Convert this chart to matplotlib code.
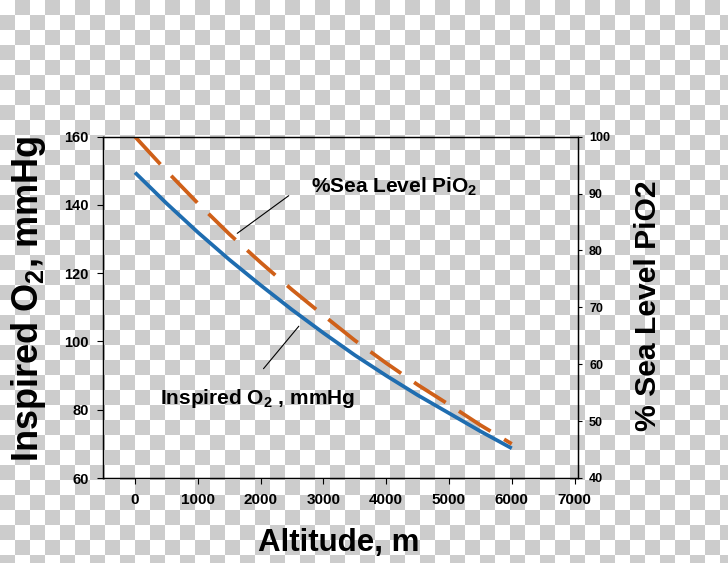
import numpy as np
import matplotlib
matplotlib.use('Agg')
import matplotlib.pyplot as plt

plt.rcParams['font.family'] = ['Liberation Sans', 'DejaVu Sans']
plt.rcParams['font.weight'] = 'bold'
plt.rcParams['mathtext.fontset'] = 'custom'
plt.rcParams['mathtext.rm'] = 'Liberation Sans:bold'
plt.rcParams['mathtext.default'] = 'rm'

# data
altitude = [0, 500, 1000, 1500, 2000, 2500, 3000, 3500, 4000, 4500, 5000, 5500, 6000]
inspired_o2 = [149.5, 140.5, 132.0, 124.0, 116.5, 109.3, 102.5, 96.0, 90.0, 84.3, 79.0, 73.7, 68.7]
pct_sea_level = [100.0, 94.0, 88.3, 82.9, 77.9, 73.1, 68.6, 64.2, 60.2, 56.4, 52.9, 49.3, 46.0]

x_ticks = [0, 1000, 2000, 3000, 4000, 5000, 6000, 7000]
left_ticks = [60, 80, 100, 120, 140, 160]
right_ticks = [40, 50, 60, 70, 80, 90, 100]

blue = '#1f6db0'
orange = '#cf6019'

fig = plt.figure(figsize=(7.28, 5.63), dpi=100)

# transparent-png checkerboard behind everything
bg = fig.add_axes([0, 0, 1, 1], zorder=-10)
yy, xx = np.mgrid[0:563, 0:728]
checker = ((xx // 15 + yy // 15) % 2).astype(float)
bg.imshow(checker, cmap=matplotlib.colors.ListedColormap(['#ffffff', '#cccccc']),
          interpolation='nearest', aspect='auto')
bg.axis('off')

ax = fig.add_axes([103 / 728, 1 - 478 / 563, 475 / 728, 341.3 / 563])
ax.set_facecolor('none')
ax.plot(altitude, inspired_o2, color=blue, lw=2.7, solid_capstyle='butt')
ax.set_xlim(-510, 7055)
ax.set_ylim(60, 160)
ax.set_xticks(x_ticks)
ax.set_yticks(left_ticks)
ax.tick_params(axis='x', direction='out', length=4, width=0.8, labelsize=11, pad=7)
ax.tick_params(axis='y', direction='out', length=4.3, width=0.8, labelsize=10.5, pad=6)
for s in ax.spines.values():
    s.set_linewidth(0.9)

ax2 = ax.twinx()
ax2.plot(altitude, pct_sea_level, color=orange, lw=2.7, dashes=(10, 4.2))
ax2.set_ylim(40, 100)
ax2.set_yticks(right_ticks)
ax2.tick_params(axis='y', direction='out', length=3, width=0.8, labelsize=9, pad=5)
for s in ax2.spines.values():
    s.set_linewidth(0.9)

ax.set_xlabel('Altitude, m', fontsize=22.5, fontweight='bold')
ax.xaxis.set_label_coords(0.497, -0.19)
ax.xaxis.label.set_va('center')

ax.set_ylabel('Inspired O$_2$, mmHg', fontsize=26, fontweight='bold')
ax.yaxis.set_label_coords(-0.156, 0.524)
ax.yaxis.label.set_va('center')
ax.yaxis.label.set_ha('center')

ax2.set_ylabel('% Sea Level PiO2', fontsize=21.7, fontweight='bold')
ax2.yaxis.set_label_coords(1.147, 0.504)
ax2.yaxis.label.set_va('center')
ax2.yaxis.label.set_ha('center')

# curve labels with leader lines
ax.text(2803, 143.5, '%Sea Level PiO$_2$', fontsize=15, fontweight='bold', va='baseline')
ax.annotate('', xy=(1592, 131.2), xytext=(2484, 143.2),
            arrowprops=dict(arrowstyle='-', lw=0.8, color='black'))
ax.text(398, 81.7, 'Inspired O$_2$ , mmHg', fontsize=15, fontweight='bold', va='baseline')
ax.annotate('', xy=(2637, 105.1), xytext=(2018, 91.4),
            arrowprops=dict(arrowstyle='-', lw=0.8, color='black'))

fig.savefig('out.png', dpi=100)
